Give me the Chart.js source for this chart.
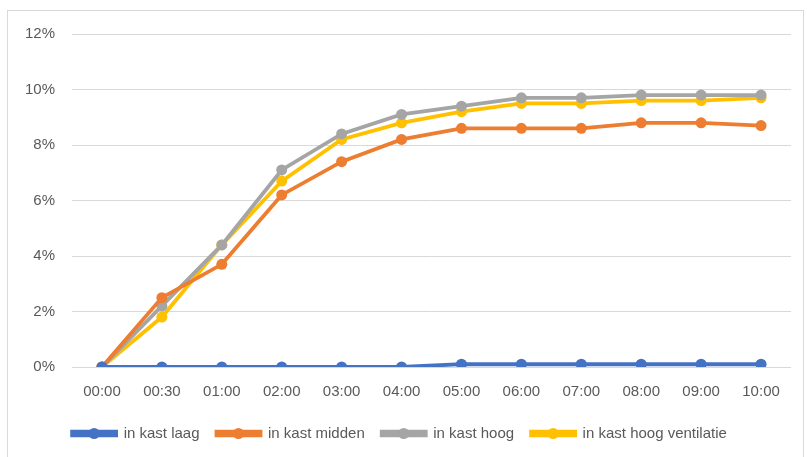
<!DOCTYPE html>
<html>
<head>
<meta charset="utf-8">
<script src="https://cdn.jsdelivr.net/npm/chart.js@4.4.1/dist/chart.umd.min.js"></script>
<style>
  html, body { margin: 0; padding: 0; background: #fff; }
  #wrap { position: relative; width: 807px; height: 457px; }
  #frame { position: absolute; left: 7px; top: 10px; width: 797px; height: 460px; border: 1px solid #d9d9d9; box-sizing: border-box; }
  canvas { position: absolute; left: 0; top: 0; }
</style>
</head>
<body>
<div id="wrap">
  <div id="frame"></div>
  <canvas id="c" width="807" height="457"></canvas>
</div>
<script>
const categories = ['00:00','00:30','01:00','02:00','03:00','04:00','05:00','06:00','07:00','08:00','09:00','10:00'];
const kastLaag = [0, 0, 0, 0, 0, 0, 0.1, 0.1, 0.1, 0.1, 0.1, 0.1];
const kastMidden = [0, 2.5, 3.7, 6.2, 7.4, 8.2, 8.6, 8.6, 8.6, 8.8, 8.8, 8.7];
const kastHoog = [0, 2.2, 4.4, 7.1, 8.4, 9.1, 9.4, 9.7, 9.7, 9.8, 9.8, 9.8];
const kastHoogVentilatie = [0, 1.8, 4.4, 6.7, 8.2, 8.8, 9.2, 9.5, 9.5, 9.6, 9.6, 9.7];
const seriesNames = ['in kast laag', 'in kast midden', 'in kast hoog', 'in kast hoog ventilatie'];
const seriesColors = ['#4472C4', '#ED7D31', '#A5A5A5', '#FFC000'];
const yTicks = [0, 2, 4, 6, 8, 10, 12];

const FONT = "'Liberation Sans', Arial, sans-serif";

function ds(i, data) {
  return {
    label: seriesNames[i],
    data: data,
    borderColor: seriesColors[i],
    backgroundColor: seriesColors[i],
    borderWidth: 3.8,
    pointRadius: 5.5,
    pointHoverRadius: 5.5,
    pointBorderWidth: 0,
    tension: 0,
    fill: false
  };
}

const legendDots = {
  id: 'legendDots',
  afterDraw(chart) {
    const lg = chart.legend;
    if (!lg || !lg.legendHitBoxes) return;
    const ctx = chart.ctx;
    const bw = lg.options.labels.boxWidth;
    lg.legendHitBoxes.forEach((hb, i) => {
      const cx = hb.left + bw / 2;
      const cy = hb.top + hb.height / 2;
      ctx.save();
      ctx.fillStyle = seriesColors[i];
      ctx.beginPath();
      ctx.arc(cx, cy, 5.5, 0, Math.PI * 2);
      ctx.fill();
      ctx.restore();
    });
  }
};

new Chart(document.getElementById('c'), {
  type: 'line',
  data: {
    labels: categories,
    datasets: [ds(0, kastLaag), ds(1, kastMidden), ds(2, kastHoog), ds(3, kastHoogVentilatie)]
  },
  options: {
    responsive: false,
    animation: false,
    layout: { padding: { left: 8, right: 16, top: 34, bottom: 6 } },
    plugins: {
      tooltip: { enabled: false },
      legend: {
        position: 'bottom',
        labels: {
          boxWidth: 44,
          boxHeight: 3.8,
          padding: 17,
          color: '#595959',
          font: { family: FONT, size: 15 }
        }
      }
    },
    scales: {
      x: {
        offset: true,
        grid: { display: false },
        border: { display: false },
        ticks: { color: '#595959', font: { family: FONT, size: 15 }, padding: 8, maxRotation: 0, autoSkip: false }
      },
      y: {
        min: 0,
        max: 12,
        afterBuildTicks: (s) => { s.ticks = yTicks.map(v => ({ value: v })); },
        grid: { color: '#d9d9d9', lineWidth: 1, drawTicks: false },
        border: { display: false },
        ticks: { color: '#595959', font: { family: FONT, size: 15 }, padding: 17, callback: v => v + '%' }
      }
    }
  },
  plugins: [legendDots]
});
</script>
</body>
</html>
